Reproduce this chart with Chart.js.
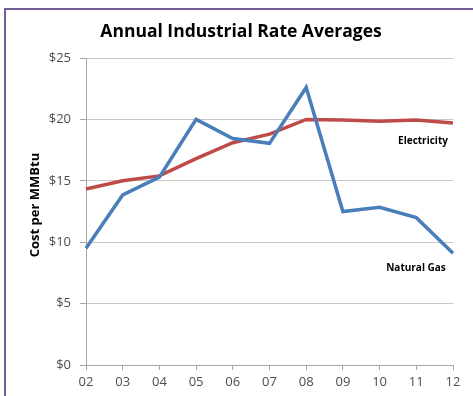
<!DOCTYPE html>
<html>
<head>
<meta charset="utf-8">
<script src="https://cdn.jsdelivr.net/npm/chart.js@4.4.1/dist/chart.umd.min.js"></script>
<style>
    html, body { margin: 0; padding: 0; background: #ffffff; }
    #wrap { width: 473px; height: 396px; position: relative; }
</style>
</head>
<body>
<div id="wrap"><canvas id="rateChart" width="473" height="396"></canvas></div>
<script>
// Chart data
const years = ['02', '03', '04', '05', '06', '07', '08', '09', '10', '11', '12'];
const naturalGas = [9.5, 13.85, 15.3, 20.0, 18.45, 18.05, 22.6, 12.5, 12.85, 12.0, 9.1];
const electricity = [14.33, 15.0, 15.4, 16.8, 18.1, 18.8, 20.0, 19.95, 19.85, 19.95, 19.7];
const yTicks = [0, 5, 10, 15, 20, 25];

const FONT = '"Open Sans", "Liberation Sans", sans-serif';

// Frame, title, axis title and series labels
const decorations = {
    id: 'decorations',
    afterDraw(chart) {
        const ctx = chart.ctx;
        const area = chart.chartArea;
        const y = chart.scales.y;
        ctx.save();

        // purple frame (top + left edge)
        ctx.strokeStyle = '#6f5c96';
        ctx.lineWidth = 2;
        ctx.beginPath();
        ctx.moveTo(5, 396);
        ctx.lineTo(5, 9);
        ctx.lineTo(473, 9);
        ctx.stroke();

        // chart title
        ctx.fillStyle = '#000000';
        ctx.font = 'bold 17.5px ' + FONT;
        ctx.textAlign = 'center';
        ctx.textBaseline = 'middle';
        ctx.fillText('Annual Industrial Rate Averages', 241, 32);

        // y axis title
        ctx.save();
        ctx.translate(35, 205);
        ctx.rotate(-Math.PI / 2);
        ctx.font = 'bold 13px ' + FONT;
        ctx.fillText('Cost per MMBtu', 0, 0);
        ctx.restore();

        // series labels
        ctx.font = 'bold 10px ' + FONT;
        ctx.fillText('Electricity', area.right - 30, y.getPixelForValue(18.2));
        ctx.fillText('Natural Gas', area.right - 37, y.getPixelForValue(7.9));

        ctx.restore();
    }
};

new Chart(document.getElementById('rateChart'), {
    type: 'line',
    data: {
        labels: years,
        datasets: [
            {
                label: 'Natural Gas',
                data: naturalGas,
                borderColor: '#4a7ebb',
                borderWidth: 3.5,
                pointRadius: 0,
                tension: 0
            },
            {
                label: 'Electricity',
                data: electricity,
                borderColor: '#be4b48',
                borderWidth: 3.5,
                pointRadius: 0,
                tension: 0
            }
        ]
    },
    options: {
        responsive: false,
        animation: false,
        layout: {
            padding: { left: 0, right: 20, top: 58, bottom: 0 }
        },
        plugins: {
            legend: { display: false },
            title: { display: false },
            tooltip: { enabled: false }
        },
        scales: {
            x: {
                offset: false,
                grid: {
                    drawOnChartArea: false,
                    drawTicks: true,
                    tickLength: 5,
                    color: '#a6a6a6'
                },
                border: { color: '#a6a6a6' },
                ticks: {
                    color: '#4d4d4d',
                    font: { family: FONT, size: 13 },
                    padding: 4,
                    maxRotation: 0
                },
                afterFit(scale) { scale.height = 31; }
            },
            y: {
                min: 0,
                max: 25,
                afterBuildTicks(scale) {
                    scale.ticks = yTicks.map(v => ({ value: v }));
                },
                grid: {
                    color: '#c8c8c8',
                    tickLength: 6,
                    tickColor: '#a6a6a6'
                },
                border: { color: '#a6a6a6' },
                ticks: {
                    color: '#4d4d4d',
                    font: { family: FONT, size: 13 },
                    padding: 9,
                    callback: v => '$' + v
                },
                afterFit(scale) { scale.width = 86; }
            }
        }
    },
    plugins: [decorations]
});
</script>
</body>
</html>
